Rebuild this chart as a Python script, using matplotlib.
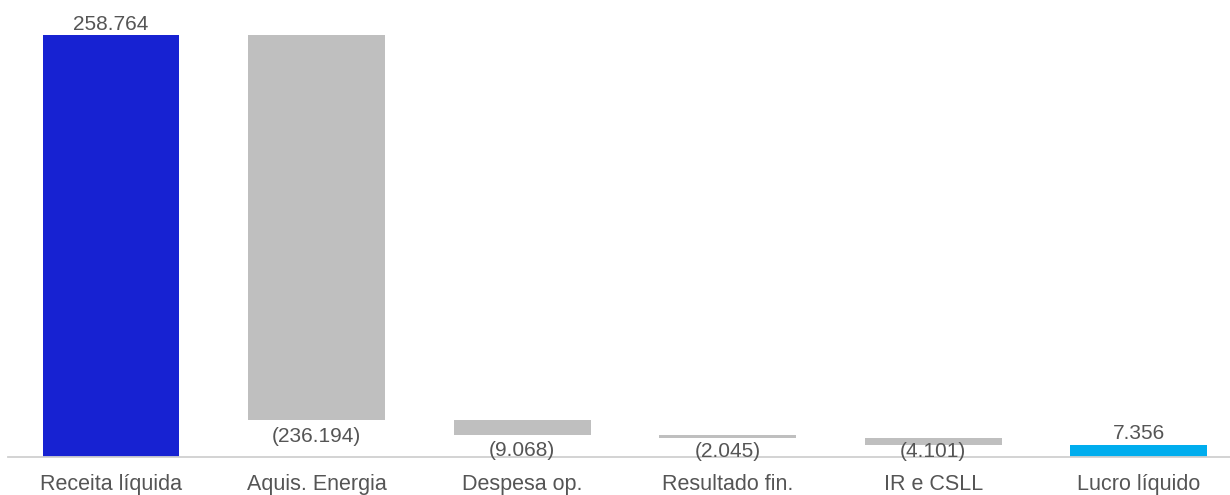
import matplotlib.pyplot as plt

categories = ["Receita líquida", "Aquis. Energia", "Despesa op.",
              "Resultado fin.", "IR e CSLL", "Lucro líquido"]
values = [258.764, -236.194, -9.068, -2.045, -4.101, 7.356]
labels = ["258.764", "(236.194)", "(9.068)", "(2.045)", "(4.101)", "7.356"]
colors = ["#1722D2", "#BFBFBF", "#BFBFBF", "#BFBFBF", "#BFBFBF", "#00ADEE"]

plt.rcParams["font.family"] = ["Liberation Sans", "DejaVu Sans"]

# waterfall bottoms: first and last bars start at zero
bottoms = []
running = 0
for i, v in enumerate(values):
    if i == 0 or i == len(values) - 1:
        bottoms.append(0)
        running = v
    else:
        running += v
        bottoms.append(running)
heights = [abs(v) for v in values]

fig = plt.figure(figsize=(12.3, 4.95), dpi=100)
ax = fig.add_axes([8 / 1230, 38.5 / 495, 1 - 8 / 1230, 1 - 38.5 / 495])

x = list(range(len(categories)))
ax.bar(x, heights, bottom=bottoms, width=0.666, color=colors)

# negative labels go under the bar, but never lower than just above the axis
label_floor = 13.2
for i, v in enumerate(values):
    if v >= 0:
        ax.annotate(labels[i], (x[i], bottoms[i] + heights[i]), xytext=(0, 1),
                    textcoords="offset points", ha="center", va="bottom",
                    fontsize=15, color="#555555")
    else:
        ax.annotate(labels[i], (x[i], max(bottoms[i], label_floor)), xytext=(0, -5),
                    textcoords="offset points", ha="center", va="top",
                    fontsize=15, color="#555555")

ax.set_xlim(-0.501, 5.443)
ax.set_ylim(0, 280.2)
ax.set_xticks(x)
ax.set_xticklabels(categories, fontsize=15.5, color="#555555")
ax.tick_params(axis="x", length=0, pad=12.5)
ax.set_yticks([])
for side in ["left", "right", "top"]:
    ax.spines[side].set_visible(False)
ax.spines["bottom"].set_color("#D0D0D0")
ax.spines["bottom"].set_linewidth(1.3)

fig.savefig("out.png", dpi=100)
